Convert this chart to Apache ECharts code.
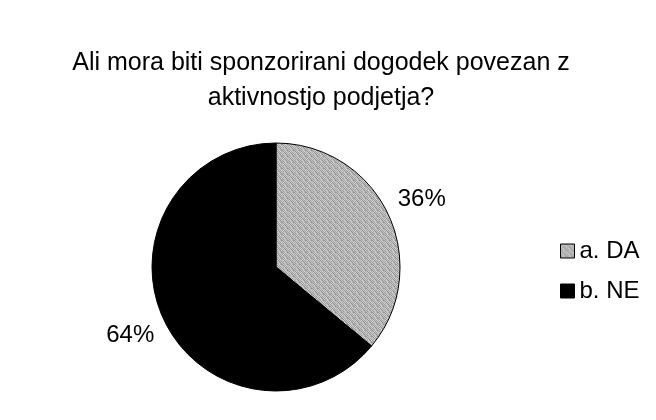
<!DOCTYPE html>
<html>
<head>
<meta charset="utf-8">
<script src="https://cdn.jsdelivr.net/npm/echarts@6/dist/echarts.min.js"></script>
<style>
  html, body { margin: 0; padding: 0; background: #fff; }
  #chart { width: 656px; height: 420px; }
</style>
</head>
<body>
<div id="chart"></div>
<script>
const categories = ['a. DA', 'b. NE']
const values = [36, 64]
const titleText = 'Ali mora biti sponzorirani dogodek povezan z\naktivnostjo podjetja?'

// speckled grey texture for the "DA" slice (fixed 6x6 tile)
const tile = [
  '#9a9a9a', '#c8c8c8', '#a8a8a8', '#d0d0d0', '#b4b4b4', '#8c8c8c',
  '#c0c0c0', '#8e8e8e', '#cccccc', '#a4a4a4', '#d4d4d4', '#b8b8b8',
  '#b0b0b0', '#d2d2d2', '#969696', '#c4c4c4', '#9e9e9e', '#cacaca',
  '#cecece', '#a2a2a2', '#c6c6c6', '#929292', '#c2c2c2', '#a6a6a6',
  '#a0a0a0', '#bcbcbc', '#d6d6d6', '#aeaeae', '#8a8a8a', '#cccccc',
  '#c8c8c8', '#989898', '#b2b2b2', '#d0d0d0', '#b6b6b6', '#9c9c9c'
]
const makePattern = () => {
  const c = document.createElement('canvas')
  c.width = 6
  c.height = 6
  const ctx = c.getContext('2d')
  tile.forEach((col, i) => {
    ctx.fillStyle = col
    ctx.fillRect(i % 6, Math.floor(i / 6), 1, 1)
  })
  return c
}
const colors = [{ image: makePattern(), repeat: 'repeat' }, '#000']

const chart = echarts.init(document.getElementById('chart'))
chart.setOption({
  animation: false,
  title: {
    text: titleText,
    left: 316,
    top: 41,
    textAlign: 'center',
    textStyle: {
      fontFamily: 'Liberation Sans',
      fontSize: 25,
      fontWeight: 'normal',
      color: '#000',
      lineHeight: 35
    }
  },
  legend: {
    orient: 'vertical',
    left: 555,
    top: 234,
    itemWidth: 14,
    itemHeight: 14,
    itemGap: 16,
    icon: 'rect',
    data: categories,
    textStyle: {
      fontFamily: 'Liberation Sans',
      fontSize: 24,
      color: '#000',
      padding: [0, 0, 0, 0]
    },
    itemStyle: { borderColor: '#000', borderWidth: 1 }
  },
  series: [
    {
      type: 'pie',
      center: [276, 267],
      radius: 124,
      startAngle: 90,
      clockwise: true,
      data: categories.map((name, i) => ({
        name,
        value: values[i],
        itemStyle: { color: colors[i] }
      })),
      itemStyle: { borderColor: '#000', borderWidth: 1 },
      label: {
        show: true,
        position: 'outside',
        formatter: '{d}%',
        fontFamily: 'Liberation Sans',
        fontSize: 24,
        color: '#000'
      },
      labelLine: { show: false, length: 36, length2: -28 }
    }
  ]
})
</script>
</body>
</html>
